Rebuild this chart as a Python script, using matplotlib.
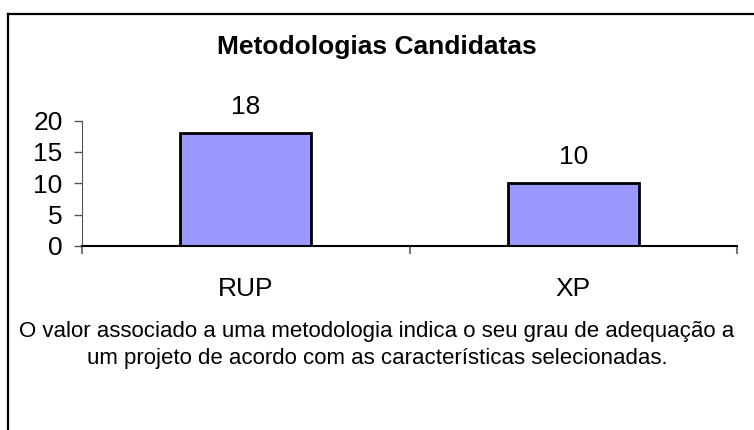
import matplotlib
matplotlib.use("Agg")
import matplotlib.pyplot as plt
from matplotlib.lines import Line2D

categories = ["RUP", "XP"]
scores = [18, 10]
yticks = [0, 5, 10, 15, 20]
title = "Metodologias Candidatas"
caption = ("O valor associado a uma metodologia indica o seu grau de adequação a\n"
           "um projeto de acordo com as características selecionadas.")

plt.rcParams["font.family"] = ["Liberation Sans", "DejaVu Sans"]

fig = plt.figure(figsize=(7.54, 4.30), dpi=100)
ax = fig.add_axes([0.1088, 0.428, 0.8687, 0.2914])

x = range(len(categories))
bars = ax.bar(x, scores, width=0.4, color="#9999FF", edgecolor="black", linewidth=2)
for b, v in zip(bars, scores):
    ax.annotate(str(v), (b.get_x() + b.get_width() / 2, v), xytext=(0, 10),
                textcoords="offset points", ha="center", va="bottom", fontsize=19)

ax.set_xlim(-0.5, len(categories) - 0.5)
ax.set_ylim(0, 20)
ax.set_yticks(yticks)
ax.tick_params(axis="y", labelsize=19, length=6, width=1, pad=8, color="#555555")
ax.set_xticks(list(x))
ax.set_xticklabels(categories)
ax.set_xticks([i - 0.5 for i in range(len(categories) + 1)], minor=True)
ax.tick_params(axis="x", which="major", length=0, labelsize=19, pad=22)
ax.tick_params(axis="x", which="minor", length=6, width=1.5, color="#777777")

for s in ["top", "right"]:
    ax.spines[s].set_visible(False)
ax.spines["left"].set_color("#555555")
ax.spines["bottom"].set_linewidth(1.5)

fig.text(0.5, 1 - 47 / 430, title, ha="center", va="center", fontsize=19, fontweight="bold")
fig.text(0.5, 1 - 345 / 430, caption, ha="center", va="center", fontsize=16, linespacing=1.35)

# outer frame (only top and left are inside the picture)
fig.add_artist(Line2D([8 / 754, 1], [1 - 14 / 430, 1 - 14 / 430], color="black", lw=1.6))
fig.add_artist(Line2D([8 / 754, 8 / 754], [0, 1 - 14 / 430], color="black", lw=1.6))

fig.savefig("out.png", dpi=100)
